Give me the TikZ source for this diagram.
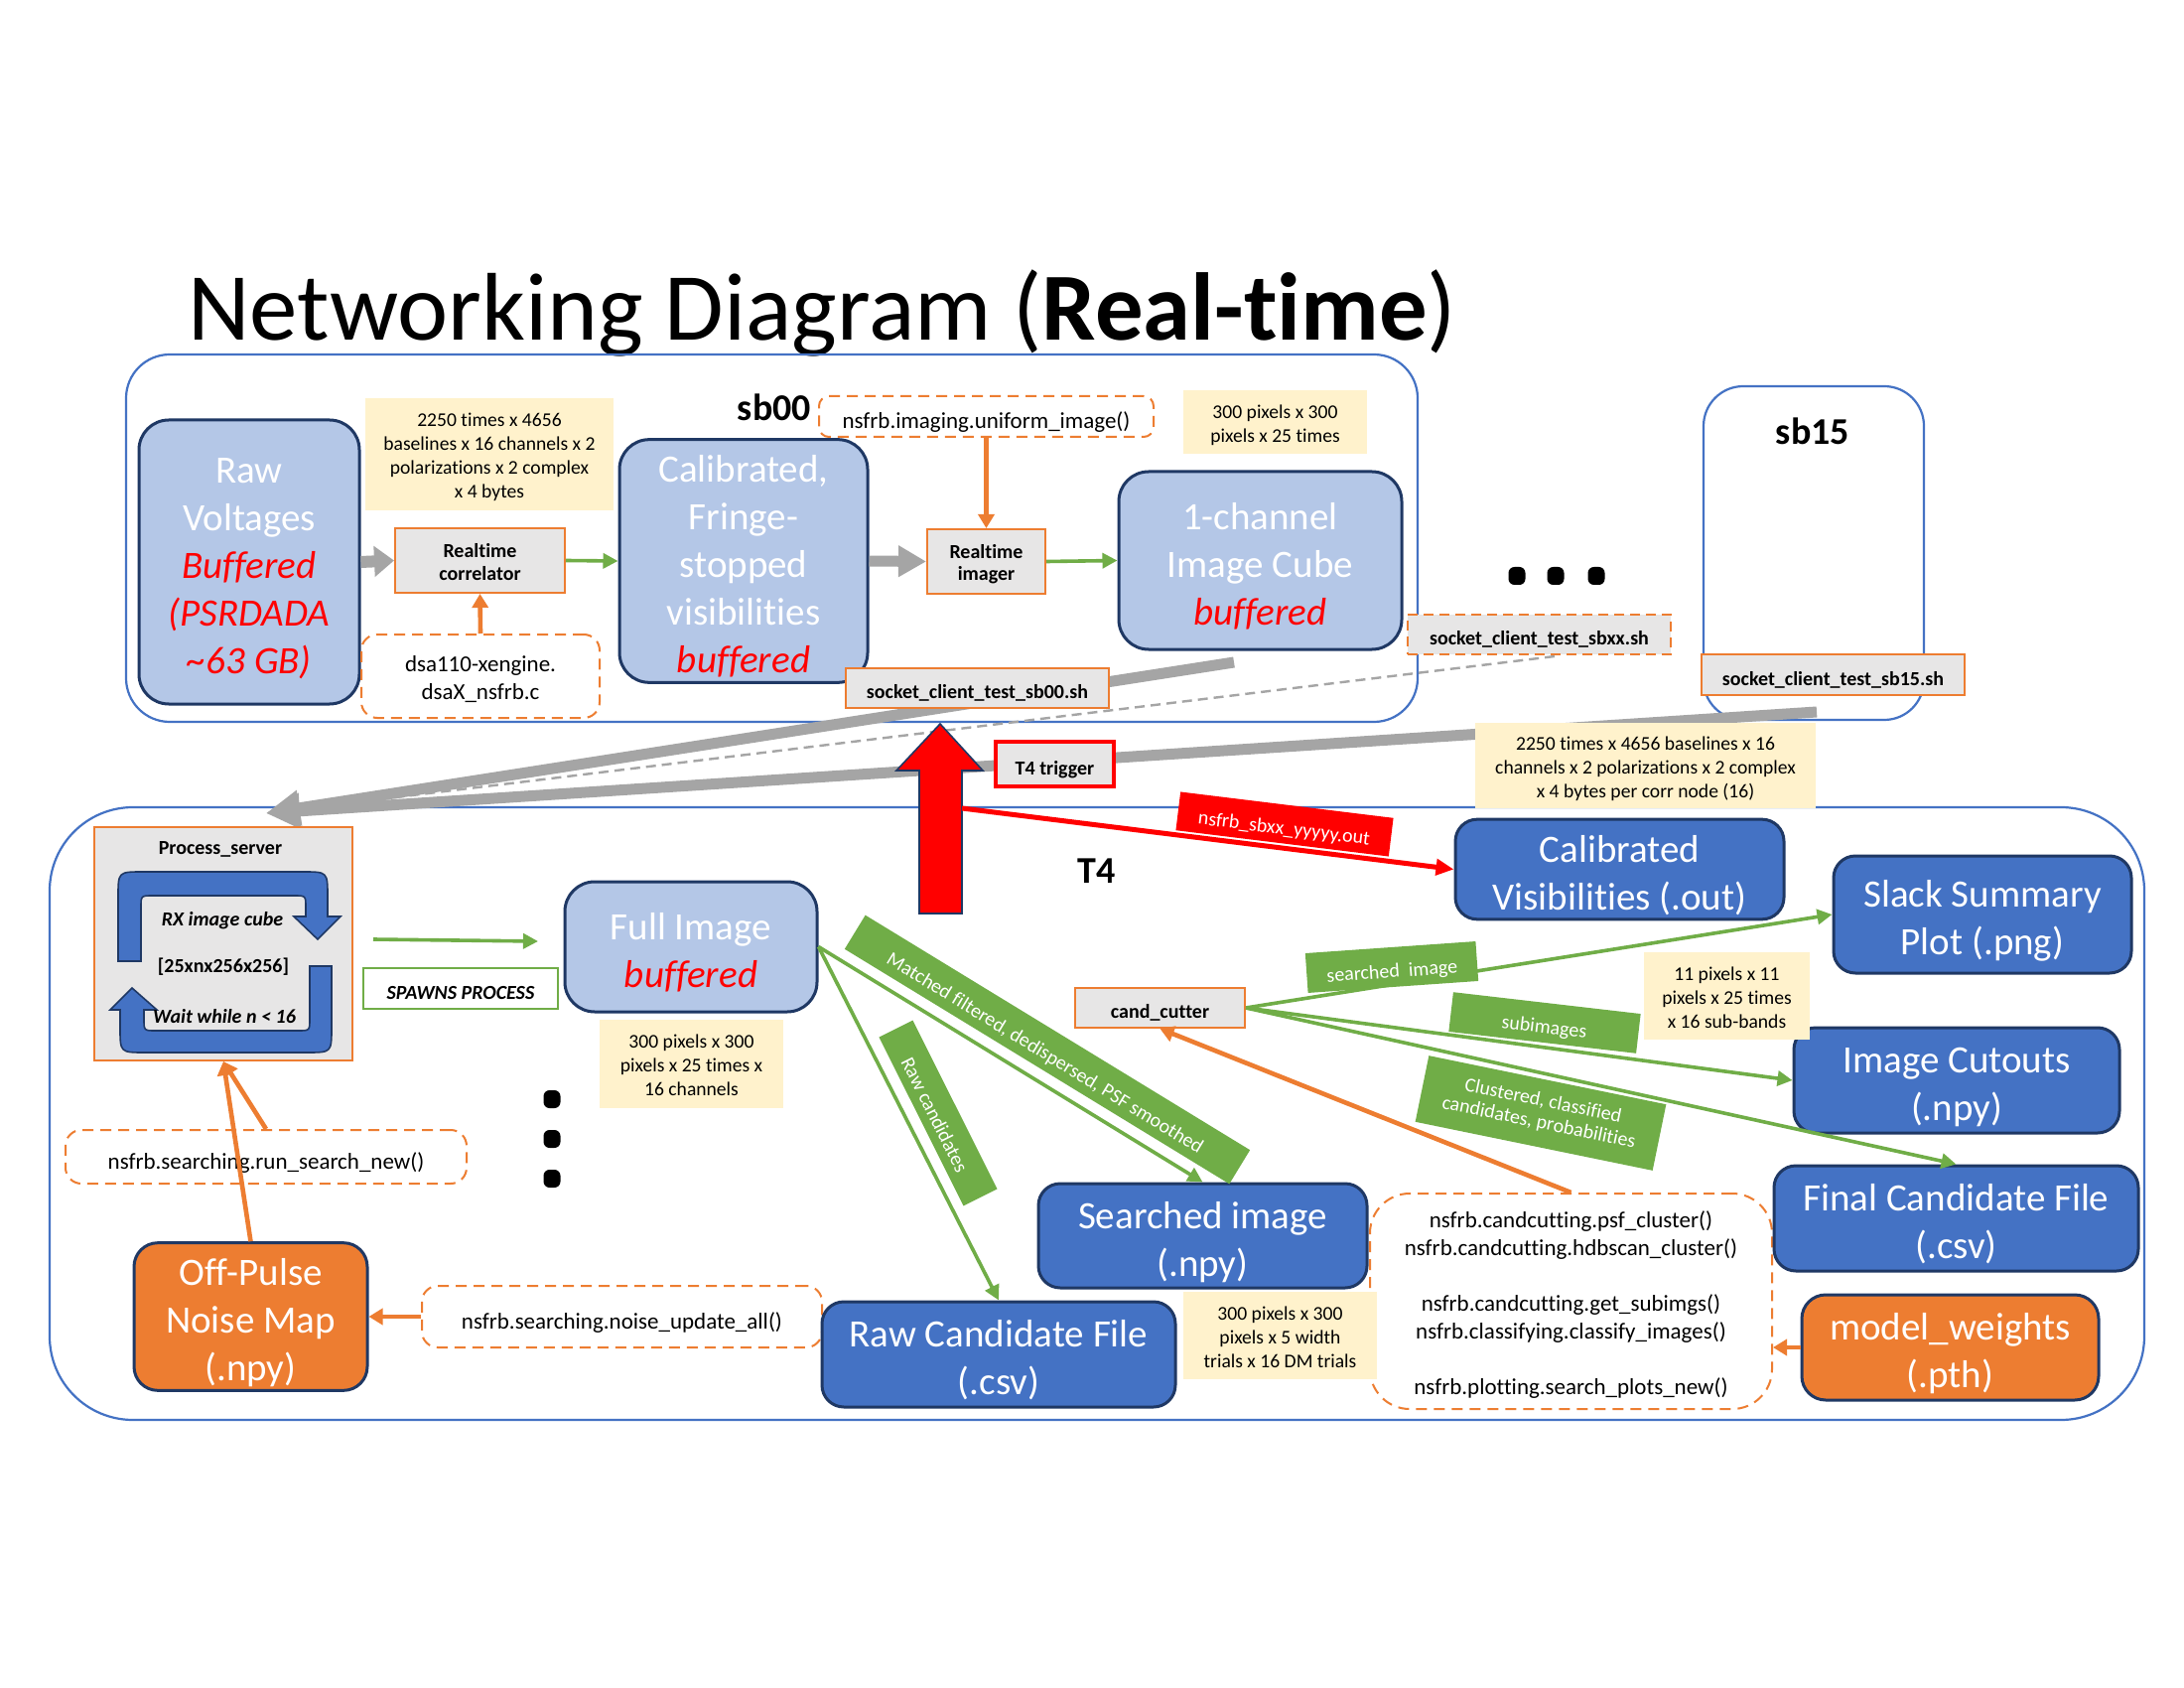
\documentclass[tikz,border=0pt]{standalone}
\usepackage{fontspec}
\setmainfont{Carlito}[Ligatures=NoCommon]
\usetikzlibrary{arrows.meta,calc}
\definecolor{lblue}{HTML}{B4C7E7}
\definecolor{dblue}{HTML}{4472C4}
\definecolor{cblue}{HTML}{4472C4}
\definecolor{navy}{HTML}{1F3864}
\definecolor{orng}{HTML}{ED7D31}
\definecolor{grn}{HTML}{70AD47}
\definecolor{gry}{HTML}{A5A5A5}
\definecolor{lgry}{HTML}{E7E6E6}
\definecolor{yel}{HTML}{FFF2CC}
\newcommand{\FBig}{\fontsize{19.5}{24}\selectfont}
\newcommand{\FNote}{\fontsize{9.8}{12}\selectfont}
\newcommand{\FCode}{\fontsize{11.5}{14}\selectfont}
\newcommand{\FLab}{\fontsize{10}{11}\selectfont}
\newcommand{\FSb}{\fontsize{19}{22}\selectfont}
\newcommand{\RI}[1]{\textcolor{red}{\itshape #1}}
\newcommand{\TStr}{\rule{0pt}{1.3em}}
\newcommand{\BStr}{\rule[-0.25em]{0pt}{0pt}}
\newcommand{\FStr}{\rule{0pt}{1.1em}}
\begin{document}
\begin{tikzpicture}[x=0.5pt,y=-0.5pt,
  bx/.style args={#1/#2/#3/#4}{minimum width={(#3-#1)*0.5pt}, minimum height={(#4-#2)*0.5pt}, at={({(#1+#3)/2},{(#2+#4)/2})}},
  vc/.style={execute at begin node=\TStr, execute at end node=\BStr},
  container/.style={draw=cblue, line width=1.1pt},
  lbbox/.style={vc, draw=navy, fill=lblue, line width=1.5pt, rounded corners=15pt, inner sep=0pt, align=center, text=white, font=\FBig},
  dbbox/.style={vc, draw=navy, fill=dblue, line width=1.5pt, rounded corners=11pt, inner sep=0pt, align=center, text=white, font=\FBig},
  obbox/.style={dbbox, fill=orng, rounded corners=12pt},
  note/.style={vc, fill=yel, inner sep=0pt, align=center, font=\FNote},
  proc/.style={vc, fill=lgry, draw=orng, line width=1pt, inner sep=0pt, align=center, font=\FLab\bfseries},
  sockd/.style={proc, dash pattern=on 5pt off 3pt},
  code/.style={vc, draw=orng, fill=white, line width=1pt, dash pattern=on 5.5pt off 3.5pt, rounded corners=8pt, inner sep=0pt, align=center, font=\FCode},
  glab/.style={vc, fill=grn, text=white, inner sep=0pt, align=center, font=\FLab},
  garrow/.style={draw=grn, line width=1.8pt, -{Triangle[length=7.5pt,width=7.5pt]}},
  oarrow/.style={draw=orng, line width=2.3pt, -{Triangle[length=7pt,width=8pt]}},
  bigg/.style={draw=gry, line width=5.5pt, -{Triangle[length=17pt,width=17pt]}},
  dotbox/.style={fill=black, rounded corners=3pt, minimum width=8.5pt, minimum height=9pt, inner sep=0pt},
]
\useasboundingbox (0,0) rectangle (2200,1700);
\fill[white] (0,0) rectangle (2200,1700);

% title
\node[anchor=base west, inner sep=0pt, font=\fontsize{48.4}{58}\selectfont] (title) at (189,343) {Networking Diagram (\textbf{Real-time})};

% containers
\draw[container, rounded corners=22pt] (127,357) rectangle (1428,727);
\draw[container, rounded corners=20pt] (1716,389) rectangle (1938,725);
\draw[container, rounded corners=42pt] (50,813) rectangle (2160,1430);

% gray transfer lines
\coordinate (gA) at (1243,667);
\coordinate (gB) at (1830,717);
\coordinate (gT) at (268,819);
\coordinate (gD) at (1566,661);
\coordinate (gDe) at (300,815);
\draw[bigg] (gA) -- (gT);
\draw[bigg] (gB) -- (gT);
\draw[gry, line width=1.2pt, dash pattern=on 5pt off 3pt] (gD) -- (gDe);

% sb00
\node[font=\FSb\bfseries] (sb00l) at (780,410) {sb00};
\node[lbbox, bx=140/423/362/709] (raw) {\FStr Raw\\Voltages\\\RI{Buffered}\\\RI{(PSRDADA}\\\RI{\textasciitilde 63 GB)}};
\node[note, bx=368/401/618/514] (n1) {\FStr 2250 times x 4656\\baselines x 16 channels x 2\\polarizations x 2 complex\\x 4 bytes};
\node[proc, bx=398/532/569/597] (corr) {\FStr Realtime\\correlator};
\node[code, bx=364/639/604/723] (dsa) {\FStr dsa110-xengine.\\dsaX\_nsfrb.c};
\node[lbbox, bx=624/447/874/683] (calfr) {\FStr Calibrated,\\Fringe-\\stopped\\visibilities\\\RI{buffered}};
\node[code, rounded corners=5pt, bx=825/399/1162/440] (uni) {nsfrb.imaging.uniform\_image()};
\node[note, bx=1192/393/1377/457] (n2) {\FStr 300 pixels x 300\\pixels x 25 times};
\node[proc, bx=934/533/1053/598] (imager) {\FStr Realtime\\imager};
\node[lbbox, bx=1127/475/1412/654] (cube) {\FStr 1-channel\\Image Cube\\\RI{buffered}};
\node[proc, bx=852/673/1117/713] (sock0) {socket\_client\_test\_sb00.sh};

\draw[draw=gry, line width=6pt, -{Triangle[length=10pt,width=15pt]}] (raw.east) -- (corr.west);
\draw[draw=gry, line width=5.5pt, -{Triangle[length=14pt,width=15pt]}] (calfr.east) -- (imager.west);
\draw[garrow] (corr.east) -- (calfr.west);
\draw[garrow] (imager.east) -- (cube.west);
\draw[oarrow] (dsa.north) -- (corr.south);
\draw[oarrow] (uni.south) -- (imager.north);

% between
\node[dotbox] (hd1) at (1528,580) {};
\node[dotbox] (hd2) at (1567,580) {};
\node[dotbox] (hd3) at (1608,580) {};
\node[sockd, bx=1418/619/1683/659] (sockx) {socket\_client\_test\_sbxx.sh};
\node[font=\FSb\bfseries] (sb15l) at (1826,434) {sb15};
\node[proc, bx=1714/659/1979/700] (sock15) {socket\_client\_test\_sb15.sh};
\node[note, bx=1486/728/1829/814] (n3) {\FStr 2250 times x 4656 baselines x 16\\channels x 2 polarizations x 2 complex\\x 4 bytes per corr node (16)};
\node[proc, draw=red, line width=2pt, bx=1003/747/1122/792] (t4trig) {T4 trigger};

% big red arrow
\filldraw[fill=red, draw=navy, line width=0.8pt] (947,729) -- (990,776) -- (969,776) -- (969,920) -- (926,920) -- (926,776) -- (903,776) -- cycle;
\coordinate (redR) at (969,814);

% T4 area
\node[font=\FSb\bfseries] (t4l) at (1105,877) {T4};
\node[proc, bx=95/833/355/1068] (ps) {};
\node[font=\FLab\bfseries] (psl) at (222,855) {Process\_server};
\filldraw[fill=dblue, draw=navy, line width=0.8pt] (119,968) -- (119,903) .. controls (119,878) .. (144,878) -- (305,878) .. controls (330,878) .. (330,903) -- (330,923) -- (343,923) -- (320,946) -- (296,923) -- (308,923) -- (308,914) .. controls (308,902) .. (296,902) -- (154,902) .. controls (142,902) .. (142,914) -- (142,968) -- cycle;
\filldraw[fill=dblue, draw=navy, line width=0.8pt] (312,973) -- (334,973) -- (334,1035) .. controls (334,1060) .. (309,1060) -- (146,1060) .. controls (121,1060) .. (121,1035) -- (121,1017) -- (111,1017) -- (133,995) -- (158,1017) -- (145,1017) -- (145,1026) .. controls (145,1038) .. (157,1038) -- (300,1038) .. controls (312,1038) .. (312,1026) -- cycle;
\node[font=\FLab\bfseries\itshape] (rxl) at (224,927) {RX image cube};
\node[font=\FLab\bfseries] (dim) at (225,974) {[25xnx256x256]};
\node[font=\FLab\bfseries\itshape] (waitl) at (226,1024) {Wait while n < 16};

\node[vc, draw=grn, fill=white, line width=1pt, inner sep=0pt, font=\FLab\bfseries\itshape, bx=366/975/562/1016] (spawn) {SPAWNS PROCESS};
\coordinate (sp1) at (376,946);
\coordinate (sp2) at (542,948);
\draw[garrow] (sp1) -- (sp2);

\node[lbbox, bx=569/888/823/1019] (full) {\FStr Full Image\\\RI{buffered}};
\node[note, bx=604/1027/789/1116] (n4) {\FStr 300 pixels x 300\\pixels x 25 times x\\16 channels};
\node[dotbox] (vd1) at (556,1107) {};
\node[dotbox] (vd2) at (556,1147) {};
\node[dotbox] (vd3) at (556,1187) {};

\node[code, bx=66/1138/470/1192] (rs) {nsfrb.searching.run\_search\_new()};
\node[obbox, bx=135/1252/370/1400] (off) {\FStr Off-Pulse\\Noise Map\\(.npy)};
\node[code, bx=425/1295/828/1357] (nu) {nsfrb.searching.noise\_update\_all()};
\draw[oarrow] (nu.west) -- (off.east);
\draw[oarrow] (off.north) -- (ps.south);
\draw[oarrow] (rs.north) -- (ps.south);

\node[dbbox, bx=828/1311/1184/1417] (rawc) {\FStr Raw Candidate File\\(.csv)};
\node[dbbox, bx=1046/1192/1377/1297] (srch) {\FStr Searched image\\(.npy)};
\node[code, rounded corners=20pt, bx=1380/1202/1785/1419] (cfn) {\FStr nsfrb.candcutting.psf\_cluster()\\nsfrb.candcutting.hdbscan\_cluster()\\[14pt]nsfrb.candcutting.get\_subimgs()\\nsfrb.classifying.classify\_images()\\[14pt]nsfrb.plotting.search\_plots\_new()};
\node[note, bx=1192/1301/1387/1389] (n5) {\FStr 300 pixels x 300\\pixels x 5 width\\trials x 16 DM trials};
\node[proc, bx=1083/995/1254/1035] (cand) {cand\_cutter};
\node[dbbox, bx=1466/828/1797/923] (calvis) {\FStr Calibrated\\Visibilities (.out)};
\node[dbbox, bx=1847/862/2147/980] (slack) {\FStr Slack Summary\\Plot (.png)};
\node[dbbox, bx=1807/1035/2135/1141] (cut) {\FStr Image Cutouts\\(.npy)};
\node[dbbox, bx=1787/1174/2154/1280] (final) {\FStr Final Candidate File\\(.csv)};
\node[obbox, bx=1815/1304/2114/1410] (model) {\FStr model\_weights\\(.pth)};
\node[note, bx=1656/959/1823/1047] (n6) {\FStr 11 pixels x 11\\pixels x 25 times\\x 16 sub-bands};

% connectors T4
\draw[garrow] (full.east) -- (rawc.north);
\draw[garrow] (full.east) -- (srch.north);
\draw[garrow] (cand.east) -- (slack.west);
\draw[garrow] (cand.east) -- (cut.west);
\draw[garrow] (cand.east) -- (final.north);
\draw[oarrow] (cfn.north) -- (cand.south);
\draw[oarrow] (model.west) -- (model.west -| cfn.east);
\draw[draw=red, line width=2.5pt, -{Triangle[length=9pt,width=8pt]}] (redR) -- (calvis.west);

% labels
\node[vc, fill=red, text=white, font=\FLab, minimum width=108pt, minimum height=19.5pt, inner sep=0pt, rotate=-7] (redlab) at (1294,830) {nsfrb\_sbxx\_yyyyy.out};
\node[glab, minimum width=227pt, minimum height=20pt, rotate=-31.4] (mlab) at (1055,1057) {Matched filtered, dedispersed, PSF smoothed};
\node[glab, minimum width=95pt, minimum height=19pt, rotate=-63.4] (rclab) at (945,1121) {Raw candidates};
\node[glab, minimum width=86pt, minimum height=20pt, rotate=4] (silab) at (1402,974) {searched\ \ image};
\node[glab, minimum width=95pt, minimum height=20pt, rotate=-6.6] (sublab) at (1556,1030) {subimages};
\node[glab, minimum width=122pt, minimum height=34pt, rotate=-11.6] (cllab) at (1552,1121) {Clustered, classified\\candidates, probabilities};
\end{tikzpicture}
\end{document}
